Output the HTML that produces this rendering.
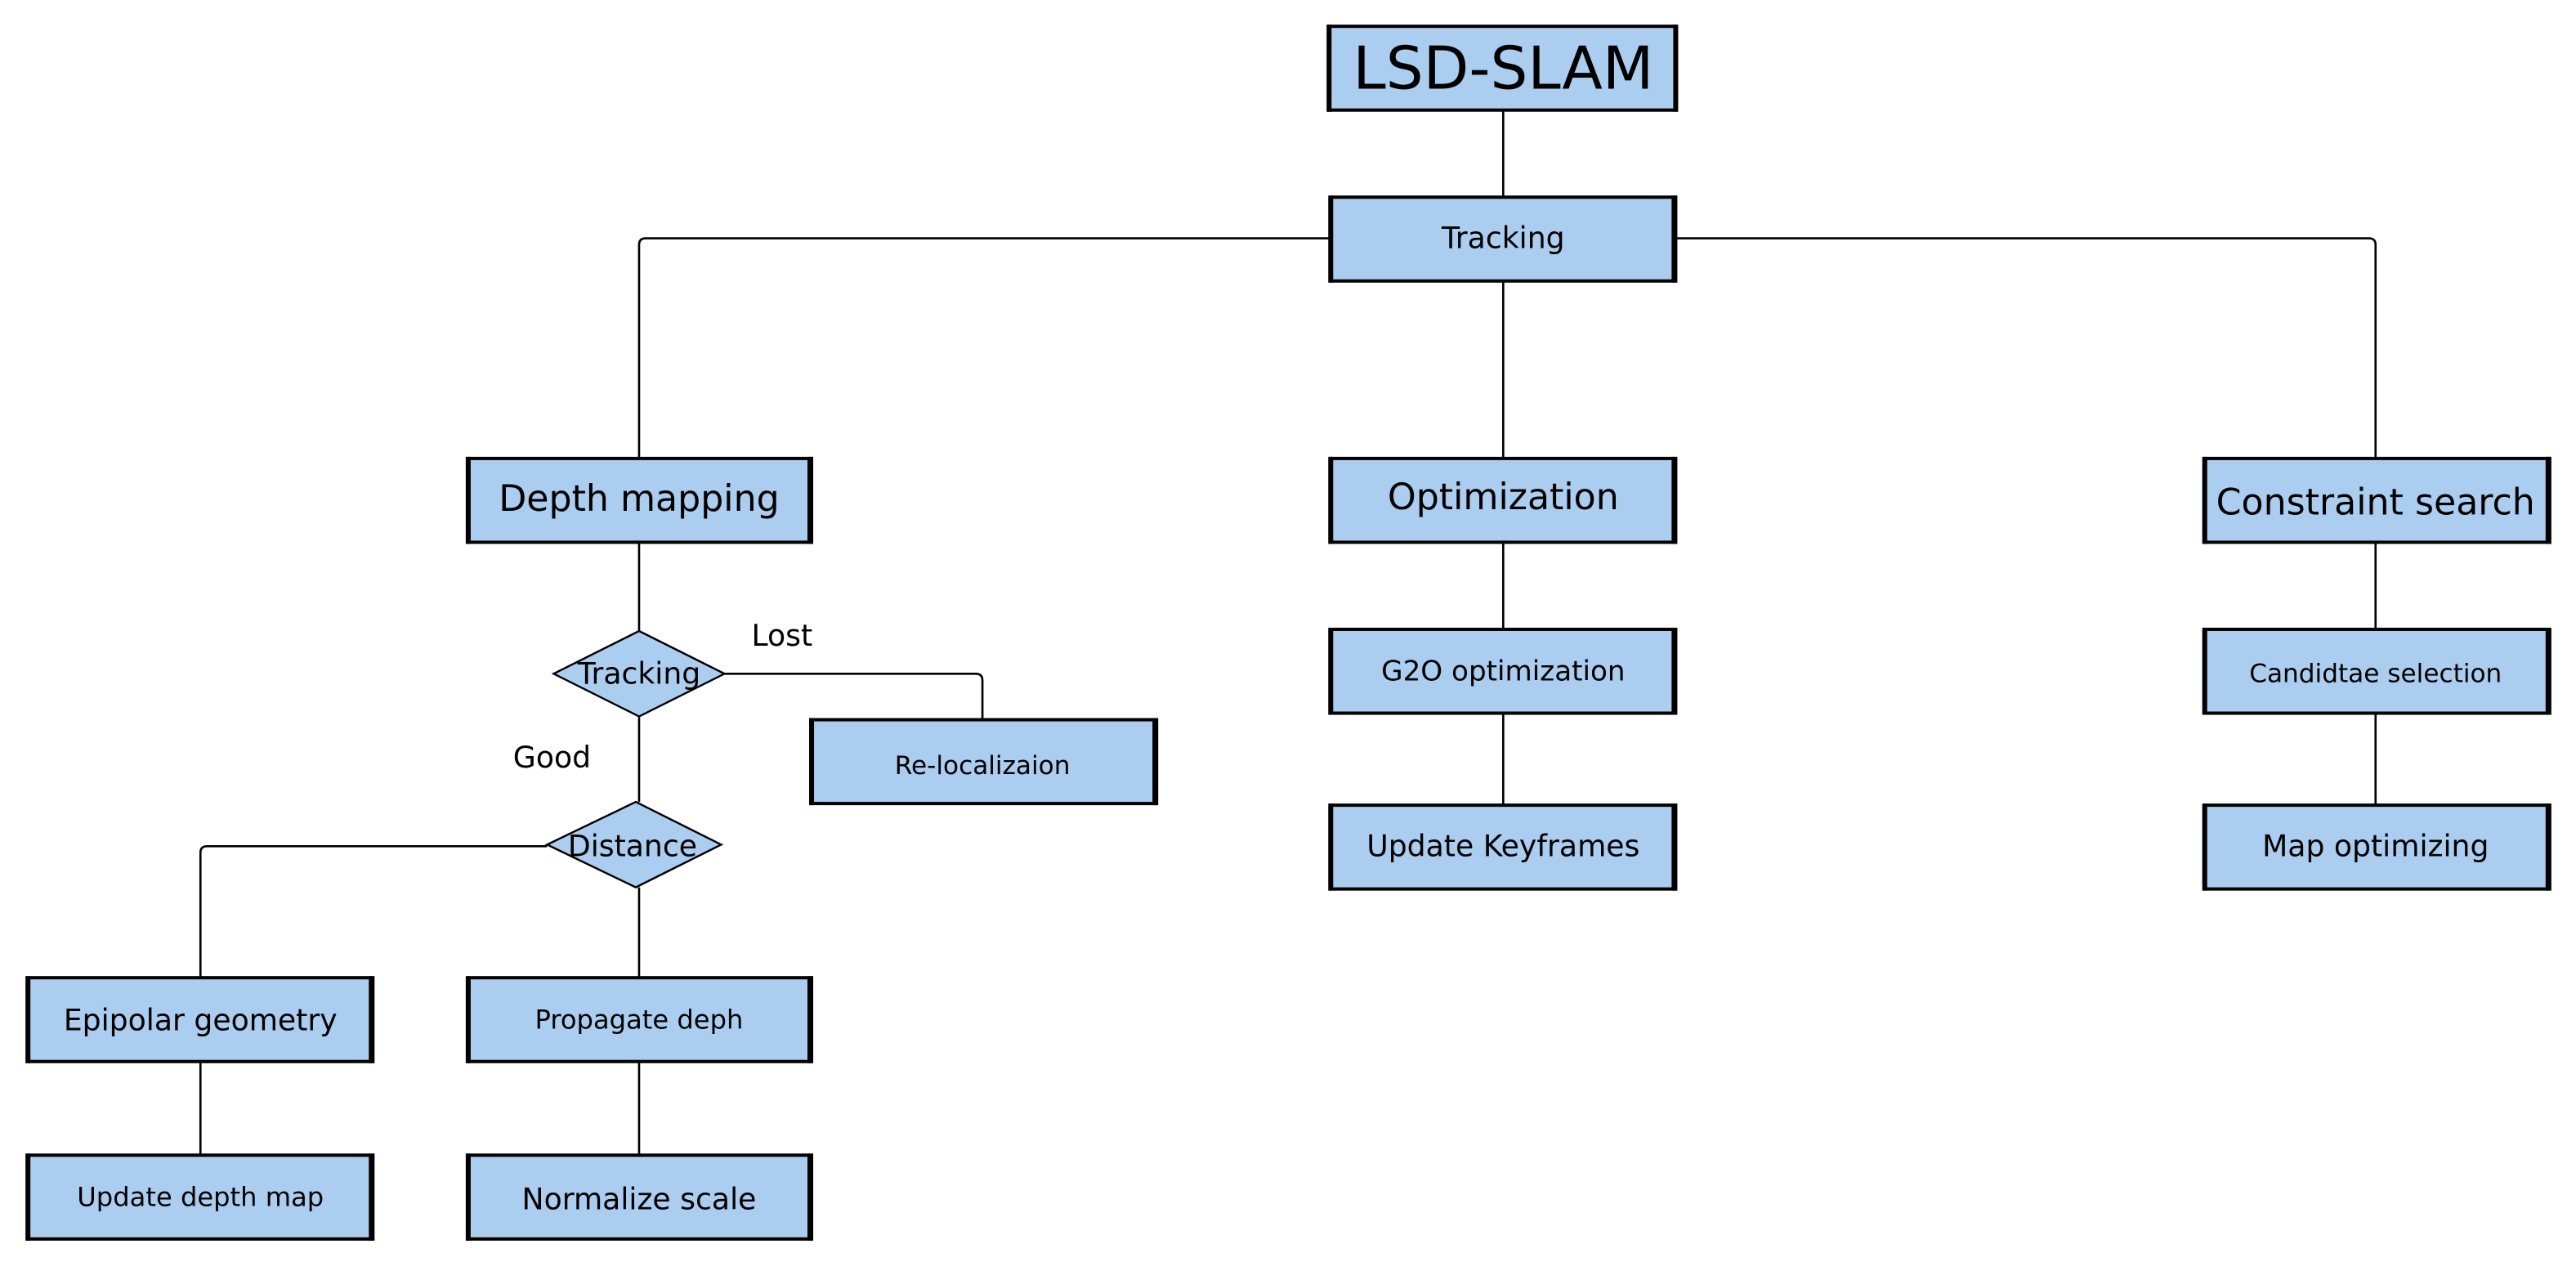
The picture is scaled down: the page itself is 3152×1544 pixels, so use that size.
<!DOCTYPE html>
<html><head><meta charset="utf-8"><style>
html,body{margin:0;padding:0;background:#fff;}
svg{display:block;}
text{font-family:"DejaVu Sans","Liberation Sans",sans-serif;fill:#000;}
</style></head><body>
<svg width="3152" height="1544" viewBox="0 0 1568 768" preserveAspectRatio="none" xmlns="http://www.w3.org/2000/svg">
<g fill="none" stroke="#000" stroke-width="1.3">
<line x1="915" y1="67" x2="915" y2="120"/>
<line x1="915" y1="171" x2="915" y2="279"/>
<path d="M809 145 H393 Q389 145 389 149 V279"/>
<path d="M1020 145 H1442 Q1446 145 1446 149 V279"/>
<line x1="915" y1="330" x2="915" y2="383"/>
<line x1="915" y1="434" x2="915" y2="490"/>
<line x1="1446" y1="330" x2="1446" y2="383"/>
<line x1="1446" y1="434" x2="1446" y2="490"/>
<line x1="389" y1="330" x2="389" y2="384"/>
<path d="M441 410 H594 Q598 410 598 414 V438"/>
<line x1="389" y1="436" x2="389" y2="488"/>
<path d="M333 515 H126 Q122 515 122 519 V595"/>
<line x1="389" y1="540" x2="389" y2="595"/>
<line x1="122" y1="646" x2="122" y2="703"/>
<line x1="389" y1="646" x2="389" y2="703"/>
</g>
<g fill="#abcdef" stroke="#000" stroke-width="2">
<rect x="809" y="16" width="211" height="51"/>
<rect x="810" y="120" width="210" height="51"/>
<rect x="285" y="279" width="209" height="51"/>
<rect x="810" y="279" width="210" height="51"/>
<rect x="1342" y="279" width="210" height="51"/>
<rect x="810" y="383" width="210" height="51"/>
<rect x="810" y="490" width="210" height="51"/>
<rect x="1342" y="383" width="210" height="51"/>
<rect x="1342" y="490" width="210" height="51"/>
<rect x="494" y="438" width="210" height="51"/>
<rect x="17" y="595" width="210" height="51"/>
<rect x="285" y="595" width="209" height="51"/>
<rect x="17" y="703" width="210" height="51"/>
<rect x="285" y="703" width="209" height="51"/>
<polygon points="389,384 441,410 389,436 337,410" stroke-width="1.2"/>
<polygon points="387,488 439,514 387,540 333,514" stroke-width="1.2"/>
</g>
<g stroke="#000" stroke-width="3">
<line x1="809" y1="15" x2="809" y2="68"/><line x1="1020" y1="15" x2="1020" y2="68"/>
<line x1="810" y1="119" x2="810" y2="172"/><line x1="1019" y1="119" x2="1019" y2="172"/>
<line x1="285" y1="278" x2="285" y2="331"/><line x1="493" y1="278" x2="493" y2="331"/>
<line x1="810" y1="278" x2="810" y2="331"/><line x1="1019" y1="278" x2="1019" y2="331"/>
<line x1="1342" y1="278" x2="1342" y2="331"/><line x1="1551" y1="278" x2="1551" y2="331"/>
<line x1="810" y1="382" x2="810" y2="435"/><line x1="1019" y1="382" x2="1019" y2="435"/>
<line x1="810" y1="489" x2="810" y2="542"/><line x1="1019" y1="489" x2="1019" y2="542"/>
<line x1="1342" y1="382" x2="1342" y2="435"/><line x1="1551" y1="382" x2="1551" y2="435"/>
<line x1="1342" y1="489" x2="1342" y2="542"/><line x1="1551" y1="489" x2="1551" y2="542"/>
<line x1="494" y1="437" x2="494" y2="490"/><line x1="703" y1="437" x2="703" y2="490"/>
<line x1="17" y1="594" x2="17" y2="647"/><line x1="226" y1="594" x2="226" y2="647"/>
<line x1="285" y1="594" x2="285" y2="647"/><line x1="493" y1="594" x2="493" y2="647"/>
<line x1="17" y1="702" x2="17" y2="755"/><line x1="226" y1="702" x2="226" y2="755"/>
<line x1="285" y1="702" x2="285" y2="755"/><line x1="493" y1="702" x2="493" y2="755"/>
</g>
<g text-anchor="middle">
<text x="915" y="54" font-size="36">LSD-SLAM</text>
<text x="915" y="151" font-size="18">Tracking</text>
<text x="389" y="311" font-size="22">Depth mapping</text>
<text x="915" y="310" font-size="22">Optimization</text>
<text x="1446" y="313" font-size="22">Constraint search</text>
<text x="915" y="414" font-size="17">G2O optimization</text>
<text x="915" y="521" font-size="18">Update Keyframes</text>
<text x="1446" y="415" font-size="15.5">Candidtae selection</text>
<text x="1446" y="521" font-size="18">Map optimizing</text>
<text x="598" y="471" font-size="15.5">Re-localizaion</text>
<text x="122" y="627" font-size="18">Epipolar geometry</text>
<text x="389" y="626" font-size="16">Propagate deph</text>
<text x="122" y="734" font-size="16">Update depth map</text>
<text x="389" y="736" font-size="18">Normalize scale</text>
<text x="389" y="416" font-size="18">Tracking</text>
<text x="385" y="521" font-size="18">Distance</text>
<text x="476" y="393" font-size="18">Lost</text>
<text x="336" y="467" font-size="18">Good</text>
</g>
</svg>
</body></html>
